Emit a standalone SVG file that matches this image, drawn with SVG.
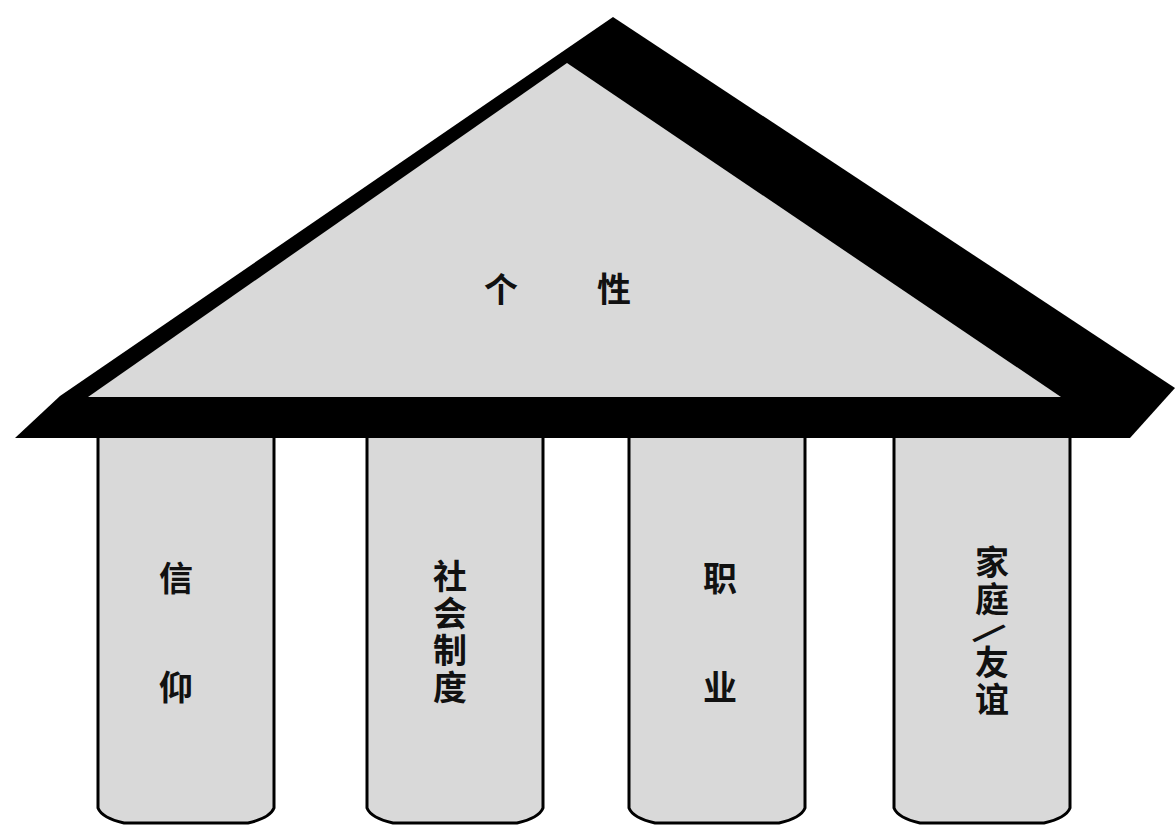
<svg xmlns="http://www.w3.org/2000/svg" width="1175" height="825" viewBox="0 0 1175 825">
  <style>
    .fill { fill: #d9d9d9; }
    .col { fill: #d9d9d9; stroke: #000; stroke-width: 3; stroke-linejoin: round; }
    .lbl { font-family: "Noto Sans CJK SC", "Noto Sans", sans-serif; font-weight: bold; font-size: 34px; fill: #111; text-anchor: middle; dominant-baseline: central; }
    .vert { writing-mode: vertical-rl; letter-spacing: 3px; }
  </style>
  <rect width="1175" height="825" fill="#fff"/>
  <g id="roof">
    <polygon points="613,17 1175,388 1130,438 15,438 60,396" fill="#000"/>
    <polygon class="fill" points="567,63 1061,397 88,397"/>
    <text class="lbl"><tspan x="501" y="287">个</tspan><tspan x="614" y="287">性</tspan></text>
  </g>
  <g id="pillar-1">
    <path class="col" d="M98,438 V808 Q102,818 124,823 H248 Q270,818 274,808 V438"/>
    <text class="lbl"><tspan x="176" y="576">信</tspan><tspan x="176" y="685">仰</tspan></text>
  </g>
  <g id="pillar-2">
    <path class="col" d="M367,438 V808 Q371,818 393,823 H517 Q539,818 543,808 V438"/>
    <text class="lbl vert" x="450" y="633">社会制度</text>
  </g>
  <g id="pillar-3">
    <path class="col" d="M629,438 V808 Q633,818 655,823 H779 Q801,818 805,808 V438"/>
    <text class="lbl"><tspan x="720" y="576">职</tspan><tspan x="720" y="685">业</tspan></text>
  </g>
  <g id="pillar-4">
    <path class="col" d="M894,438 V808 Q898,818 920,823 H1044 Q1066,818 1070,808 V438"/>
    <text class="lbl vert" x="992" y="582">家庭</text>
    <text class="lbl" x="992" y="631" font-size="30" transform="rotate(50 992 631)">/</text>
    <text class="lbl vert" x="992" y="682">友谊</text>
  </g>
  <g id="connectors"/>
</svg>
